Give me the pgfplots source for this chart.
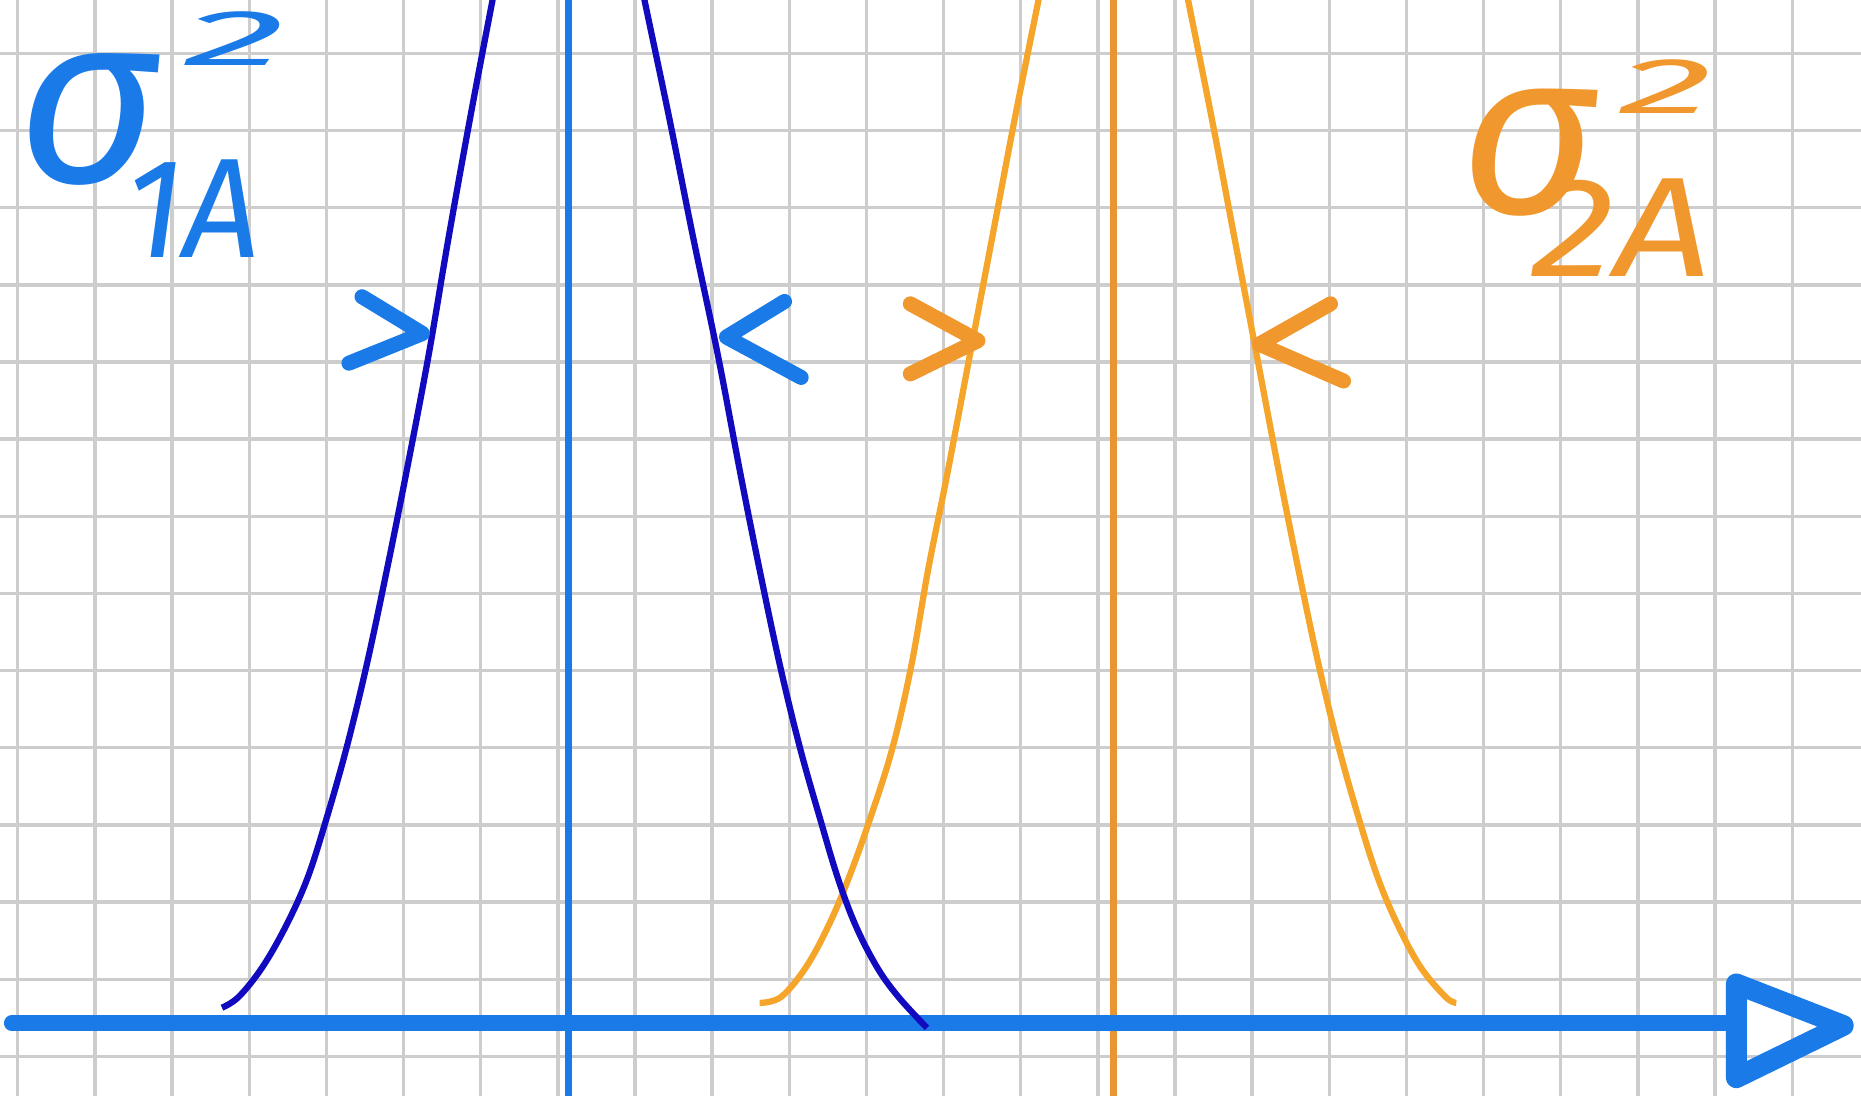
\documentclass[border=0pt]{standalone}
\usepackage{fontspec}
\setmainfont{Fira Sans}
\usepackage{graphicx}
\usepackage{pgfplots}
\pgfplotsset{compat=1.18}

\definecolor{azure}{RGB}{25,122,232}
\definecolor{navyc}{RGB}{18,10,190}
\definecolor{orangec}{RGB}{245,165,42}
\definecolor{orangev}{RGB}{232,150,50}
\definecolor{orangel}{RGB}{240,152,45}
\definecolor{gridc}{RGB}{205,205,205}

% hand-written style variance label: sigma, superscript 2, subscript
\newcommand{\varlabel}[7]{%
  \rlap{σ}%
  \rlap{\hspace{#1}\raisebox{#2}{\fontsize{19}{21}\selectfont\scalebox{#3}[1]{2}}}%
  \hspace{#4}\raisebox{#5}{\fontsize{34}{38}\selectfont\scalebox{#6}[1]{#7}}}

\begin{document}
\begin{tikzpicture}
\begin{axis}[
    width=15.68cm, height=9.23cm, scale only axis,
    xmin=0, xmax=1568, ymin=0, ymax=923, y dir=reverse,
    axis line style={draw=none},
    xtick={15,80,...,1510}, ytick={45,110,...,890},
    xticklabels={}, yticklabels={},
    major tick length=0pt,
    grid=major, grid style={gridc, line width=0.8pt},
  ]
  % mean lines
  \addplot[orangev, line width=1.7pt] coordinates {(938,-10) (938,933)};
  \addplot[azure, line width=1.7pt] coordinates {(479,-10) (479,933)};

  % x axis with hollow arrow head
  \addplot[azure, line width=3.8pt, line cap=round] coordinates {(10,862) (1462,862)};
  \addplot[azure, line width=5pt, line join=round] coordinates {(1463,829) (1553,864) (1463,908)} -- cycle;

  % group 2 (orange)
  \addplot[orangec, line width=1.5pt, smooth, tension=0.6] coordinates {
    (640,845) (658,840) (679,815) (698,780) (715,740) (733,690) (752,630)
    (768,560) (782,480) (798,400) (817,300) (836,200) (855,100) (875,0)
    (885,-50) (938,-170) (991,-50) (1001,0) (1021,100) (1040,200) (1059,300)
    (1078,400) (1094,480) (1111,560) (1128,630) (1145,690) (1161,740)
    (1178,780) (1197,815) (1218,840) (1227,845)};

  % group 1 (dark blue)
  \addplot[navyc, line width=1.5pt, smooth, tension=0.6] coordinates {
    (187,849) (201,840) (221,815) (241,780) (259,740) (275,690) (292,630)
    (309,560) (326,480) (342,400) (361,300) (378,200) (396,100) (415,0)
    (425,-50) (479,-170) (533,-50) (543,0) (564,100) (584,200) (605,300)
    (624,400) (640,480) (657,560) (674,630) (691,690) (706,740) (721,780)
    (739,815) (757,840) (781,866)};

  % chevrons
  \addplot[azure, line width=3.6pt, line cap=round, line join=round] coordinates {(305,250) (356,281) (294,306)};
  \addplot[azure, line width=3.6pt, line cap=round, line join=round] coordinates {(661,254) (612,284) (675,318)};
  \addplot[orangel, line width=3.6pt, line cap=round, line join=round] coordinates {(767,256) (824,287) (767,315)};
  \addplot[orangel, line width=3.6pt, line cap=round, line join=round] coordinates {(1121,256) (1061,290) (1132,321)};

  % labels
  \node[azure, anchor=base west, inner sep=0pt, font=\fontsize{58}{62}\selectfont\itshape]
    at (axis cs:14,154) {\varlabel{40pt}{28pt}{2.6}{26pt}{-18pt}{0.95}{1A}};
  \node[orangel, anchor=base west, inner sep=0pt, font=\fontsize{56}{60}\selectfont\itshape]
    at (axis cs:1230,180) {\varlabel{38pt}{24pt}{2.4}{17pt}{-15pt}{1.2}{2A}};
\end{axis}
\pgfresetboundingbox
\path (current axis.south west) rectangle (current axis.north east);
\end{tikzpicture}
\end{document}
